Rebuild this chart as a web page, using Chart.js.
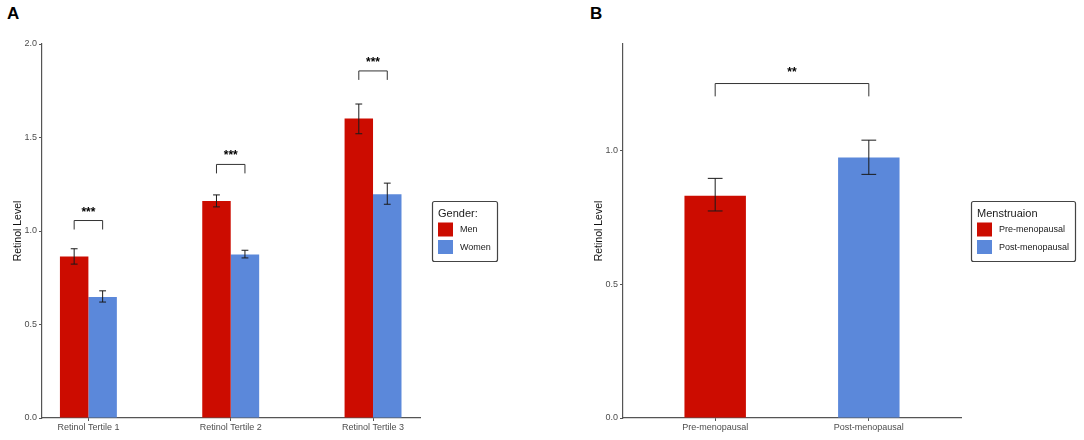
<!DOCTYPE html>
<html>
<head>
<meta charset="utf-8">
<script src="https://cdn.jsdelivr.net/npm/chart.js@4"></script>
<style>
  html, body { margin: 0; padding: 0; background: #fff; }
  body { width: 1084px; height: 440px; position: relative; overflow: hidden; font-family: "Liberation Sans", Arial, sans-serif; }
  .panel { position: absolute; top: 0; height: 440px; }
  #wrapA { left: 0; width: 540px; }
  #wrapB { left: 540px; width: 544px; }
  .tag { position: absolute; font-weight: bold; font-size: 17px; line-height: 17px; color: #000; }
</style>
</head>
<body>
<div class="tag" style="left:7px;top:5px">A</div>
<div class="tag" style="left:590px;top:5px">B</div>
<div class="panel" id="wrapA"><canvas id="chartA"></canvas></div>
<div class="panel" id="wrapB"><canvas id="chartB"></canvas></div>
<script>
// panel A: retinol tertiles by gender
const tertiles = ['Retinol Tertile 1', 'Retinol Tertile 2', 'Retinol Tertile 3'];
const menLevel = [0.864, 1.161, 1.601];
const menLow = [0.823, 1.129, 1.520];
const menHigh = [0.905, 1.193, 1.679];
const womenLevel = [0.647, 0.875, 1.197];
const womenLow = [0.620, 0.856, 1.143];
const womenHigh = [0.680, 0.897, 1.256];
const sigA = ['***', '***', '***'];
const bracketA = [1.056, 1.356, 1.856];

// panel B: menopausal status
const groups = ['Pre-menopausal', 'Post-menopausal'];
const groupLevel = [0.832, 0.975];
const groupLow = [0.775, 0.912];
const groupHigh = [0.897, 1.040];
const sigB = ['**'];
const bracketB = [1.252];

const RED = '#CC0C00';
const BLUE = '#5B88DA';
const AXIS = '#555555';
const TICK = '#4D4D4D';
const FONT = '"Liberation Sans", Arial, sans-serif';
const DROP = 0.048; // bracket leg length, in data units

Chart.defaults.font.family = FONT;

function scalesFor(labels, xMin, xMax, yMax) {
    return {
        x: {
            type: 'linear',
            min: xMin,
            max: xMax,
            offset: false,
            border: { color: AXIS, width: 1.2 },
            grid: { offset: false, drawOnChartArea: false, tickLength: 3, color: AXIS },
            ticks: {
                stepSize: 1,
                includeBounds: false,
                autoSkip: false,
                maxRotation: 0,
                color: TICK,
                font: { size: 9 },
                padding: 1,
                callback: v => labels[Math.round(v) - 1]
            },
            afterBuildTicks: s => { s.ticks = s.ticks.filter(t => Math.abs(t.value - Math.round(t.value)) < 1e-6); },
            afterFit: s => { s.height = 22; }
        },
        y: {
            min: 0,
            max: yMax,
            border: { color: AXIS, width: 1.2 },
            grid: { drawOnChartArea: false, tickLength: 3, color: AXIS },
            ticks: {
                stepSize: 0.5,
                includeBounds: false,
                color: TICK,
                font: { size: 9 },
                padding: 2,
                callback: v => v.toFixed(1)
            },
            title: { display: true, text: 'Retinol Level', color: '#111', font: { size: 10.5 }, padding: 0 },
            afterFit: s => { s.width = 30; }
        }
    };
}

// error bars and significance brackets, placed through the chart's own scales
function overlayPlugin(errorSets, brackets) {
    return {
        id: 'overlay',
        afterDatasetsDraw(chart) {
            const { ctx } = chart;
            const yScale = chart.scales.y;
            ctx.save();
            ctx.lineWidth = 1;
            ctx.strokeStyle = '#1a1a1a';
            errorSets.forEach(set => {
                chart.getDatasetMeta(set.dataset).data.forEach((bar, i) => {
                    const lo = yScale.getPixelForValue(set.low[i]);
                    const hi = yScale.getPixelForValue(set.high[i]);
                    const cap = bar.width * 0.12;
                    ctx.beginPath();
                    ctx.moveTo(bar.x, lo); ctx.lineTo(bar.x, hi);
                    ctx.moveTo(bar.x - cap, lo); ctx.lineTo(bar.x + cap, lo);
                    ctx.moveTo(bar.x - cap, hi); ctx.lineTo(bar.x + cap, hi);
                    ctx.stroke();
                });
            });
            ctx.strokeStyle = '#333';
            ctx.fillStyle = '#000';
            ctx.font = 'bold 12px ' + FONT;
            ctx.textAlign = 'center';
            ctx.textBaseline = 'alphabetic';
            brackets.forEach(b => {
                const [a, c] = b.bars(chart);
                const top = yScale.getPixelForValue(b.at);
                const foot = yScale.getPixelForValue(b.at - DROP);
                ctx.beginPath();
                ctx.moveTo(a.x, foot); ctx.lineTo(a.x, top); ctx.lineTo(c.x, top); ctx.lineTo(c.x, foot);
                ctx.stroke();
                ctx.fillText(b.label, (a.x + c.x) / 2, top - b.gap);
            });
            ctx.restore();
        }
    };
}

// ggplot-like boxed legend on the right of the plot area
function boxLegend(title, items, gap) {
    return {
        id: 'boxLegend',
        afterDraw(chart) {
            const { ctx, chartArea } = chart;
            ctx.save();
            ctx.font = '11px ' + FONT;
            const titleW = ctx.measureText(title).width;
            ctx.font = '9px ' + FONT;
            const labelW = Math.max(...items.map(it => ctx.measureText(it.label).width));
            const w = Math.round(6 + Math.max(titleW, 15 + 7 + labelW) + 6);
            const h = 60;
            const left = Math.round(chartArea.right + gap);
            const top = Math.round((chartArea.top + chartArea.bottom) / 2 - h / 2);
            ctx.strokeStyle = '#444';
            ctx.lineWidth = 1.2;
            ctx.beginPath();
            ctx.roundRect(left + 0.5, top + 0.5, w, h, 2);
            ctx.stroke();
            ctx.fillStyle = '#1a1a1a';
            ctx.textBaseline = 'middle';
            ctx.textAlign = 'left';
            ctx.font = '11px ' + FONT;
            ctx.fillText(title, left + 6, top + 12.5);
            ctx.font = '9px ' + FONT;
            items.forEach((it, i) => {
                const y = top + 21.5 + i * 17.5;
                ctx.fillStyle = it.color;
                ctx.fillRect(left + 6, y, 15, 14);
                ctx.fillStyle = '#1a1a1a';
                ctx.fillText(it.label, left + 6 + 15 + 7, y + 7.5);
            });
            ctx.restore();
        }
    };
}

const toPoints = vals => vals.map((v, i) => ({ x: i + 1, y: v }));

new Chart(document.getElementById('chartA'), {
    type: 'bar',
    data: {
        datasets: [
            { label: 'Men', data: toPoints(menLevel), backgroundColor: RED, categoryPercentage: 0.4, barPercentage: 1 },
            { label: 'Women', data: toPoints(womenLevel), backgroundColor: BLUE, categoryPercentage: 0.4, barPercentage: 1 }
        ]
    },
    options: {
        responsive: true,
        maintainAspectRatio: false,
        animation: false,
        layout: { padding: { left: 12, right: 120, top: 44, bottom: 0 } },
        plugins: { legend: { display: false }, tooltip: { enabled: false } },
        scales: scalesFor(tertiles, 0.674, 3.33, 2.0)
    },
    plugins: [
        overlayPlugin(
            [{ dataset: 0, low: menLow, high: menHigh }, { dataset: 1, low: womenLow, high: womenHigh }],
            tertiles.map((_, i) => ({
                at: bracketA[i],
                label: sigA[i],
                gap: 5,
                bars: ch => [ch.getDatasetMeta(0).data[i], ch.getDatasetMeta(1).data[i]]
            }))
        ),
        boxLegend('Gender:', [{ label: 'Men', color: RED }, { label: 'Women', color: BLUE }], 12)
    ]
});

new Chart(document.getElementById('chartB'), {
    type: 'bar',
    data: {
        datasets: [
            { label: 'Menstruaion', data: toPoints(groupLevel), backgroundColor: [RED, BLUE], categoryPercentage: 0.4, barPercentage: 1 }
        ]
    },
    options: {
        responsive: true,
        maintainAspectRatio: false,
        animation: false,
        layout: { padding: { left: 53, right: 123, top: 44, bottom: 0 } },
        plugins: { legend: { display: false }, tooltip: { enabled: false } },
        scales: scalesFor(groups, 0.4, 2.6, 1.4)
    },
    plugins: [
        overlayPlugin(
            [{ dataset: 0, low: groupLow, high: groupHigh }],
            sigB.map((s, i) => ({
                at: bracketB[i],
                label: s,
                gap: 8,
                bars: ch => [ch.getDatasetMeta(0).data[0], ch.getDatasetMeta(0).data[1]]
            }))
        ),
        boxLegend('Menstruaion', groups.map((g, i) => ({ label: g, color: [RED, BLUE][i] })), 10)
    ]
});
</script>
</body>
</html>
